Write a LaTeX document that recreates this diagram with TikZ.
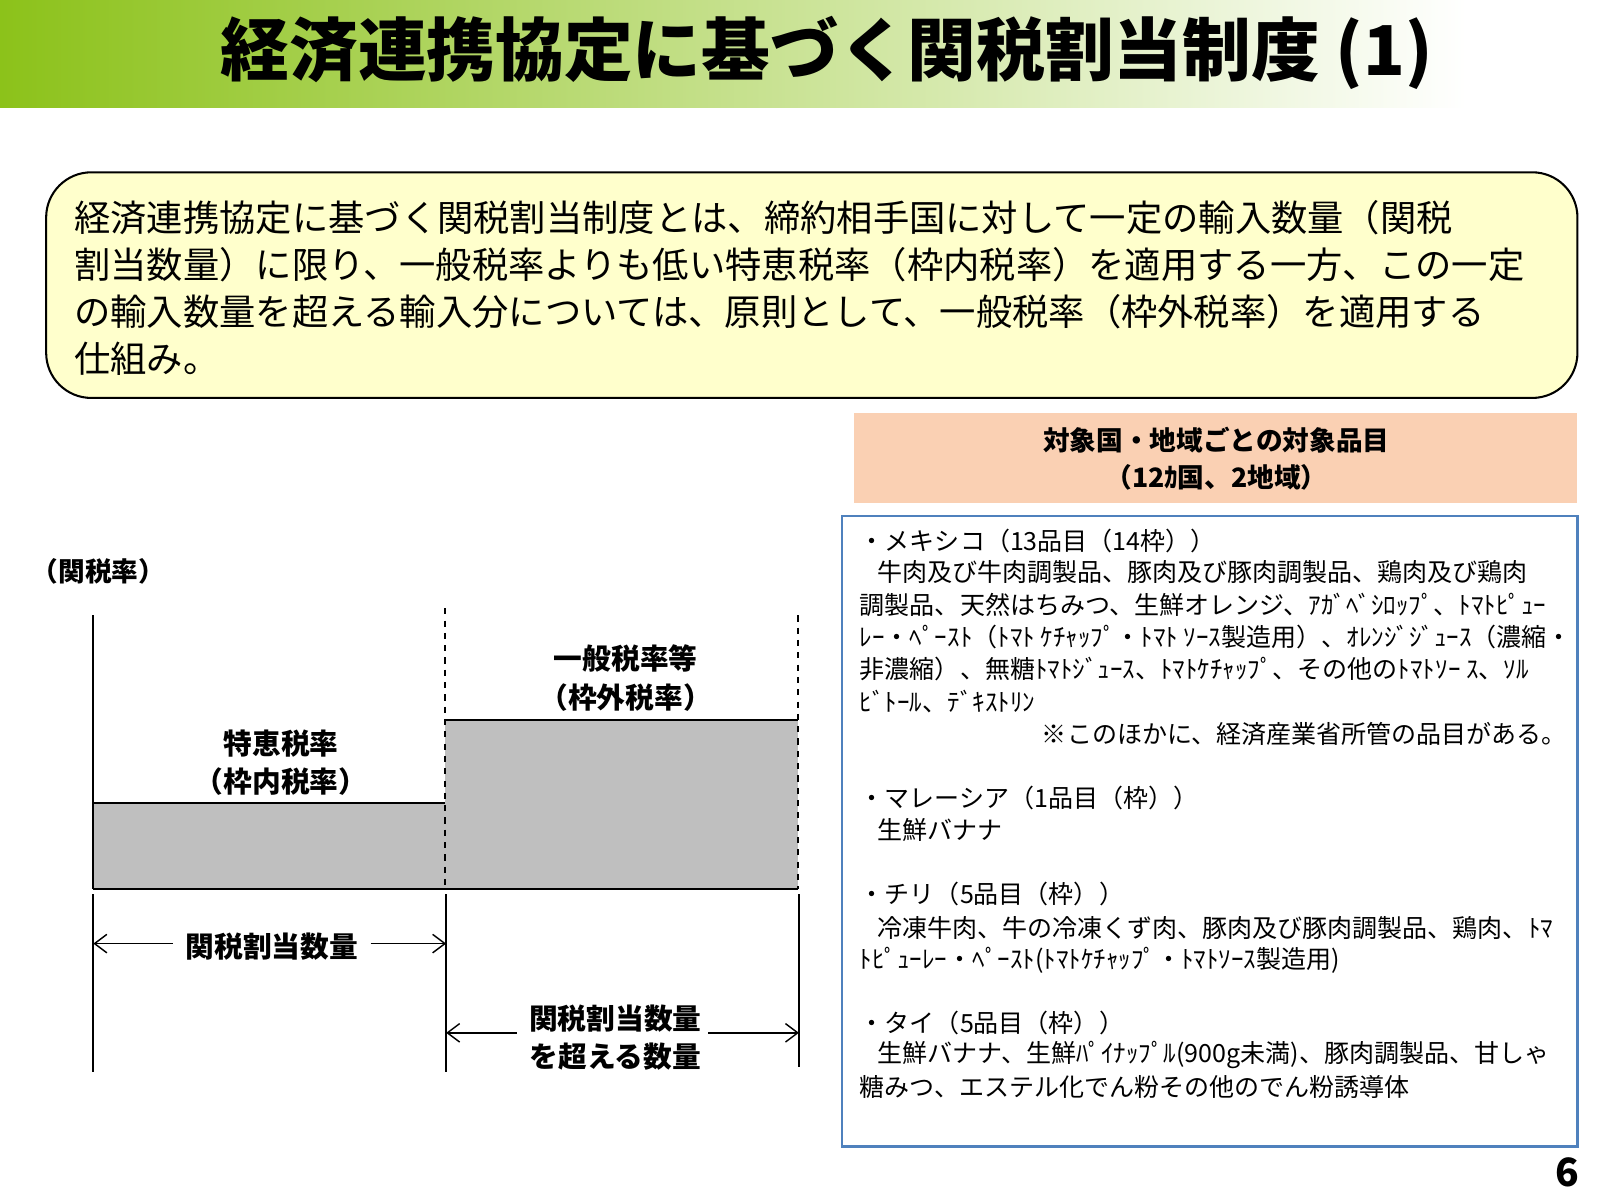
\documentclass[tikz,border=0pt]{standalone}
\usepackage{fontspec}
\setmainfont{Noto Sans CJK JP}
\usetikzlibrary{arrows.meta}
\definecolor{tgreen}{HTML}{8CC21A}
\definecolor{boxy}{HTML}{FFFFCC}
\definecolor{peach}{HTML}{FAD0B3}
\definecolor{bblue}{HTML}{4F81BD}
\definecolor{gbar}{HTML}{BFBFBF}
\begin{document}
\begin{tikzpicture}[x=0.5pt,y=-0.5pt,
  body/.style={anchor=west,inner sep=0pt,font=\fontsize{17.7}{20}\selectfont},
  lst/.style={anchor=west,inner sep=0pt,font=\fontsize{12.2}{14}\selectfont},
  lab/.style={inner sep=0pt,font=\bfseries\fontsize{14}{16}\selectfont},
  arr/.style={-{Straight Barb[length=6pt,width=9pt]},line width=0.7pt},
  vl/.style={line width=1pt}]
\useasboundingbox (0,0) rectangle (1560,1170);
\fill[white] (0,0) rectangle (1560,1170);
\shade[left color=tgreen,right color=white] (0,0) rectangle (1430,105);
\fill[white] (1430,0) rectangle (1560,105);
\node[inner sep=0pt,font=\bfseries\fontsize{33.5}{36}\selectfont] (title) at (806,52) {経済連携協定に基づく関税割当制度 (1)};
\draw[fill=boxy,line width=1pt,rounded corners=22pt] (45,168) rectangle (1538,388);
\node[body] (b1) at (72,212) {経済連携協定に基づく関税割当制度とは、締約相手国に対して一定の輸入数量（関税};
\node[body] (b2) at (72,258) {割当数量）に限り、一般税率よりも低い特恵税率（枠内税率）を適用する一方、この一定};
\node[body] (b3) at (72,304) {の輸入数量を超える輸入分については、原則として、一般税率（枠外税率）を適用する};
\node[body] (b4) at (72,350) {仕組み。};
\fill[peach] (833,403) rectangle (1538,490);
\node[lab,font=\bfseries\fontsize{13}{15}\selectfont] (h1) at (1186,429) {対象国・地域ごとの対象品目};
\node[lab,font=\bfseries\fontsize{13}{15}\selectfont] (h2) at (1186,465) {（12ｶ国、2地域）};
\draw[bblue,line width=1.2pt] (821,503) rectangle (1538,1118);
\node[lst] (l1) at (838,527) {・メキシコ（13品目（14枠））};
\node[lst] (l2) at (855,558) {牛肉及び牛肉調製品、豚肉及び豚肉調製品、鶏肉及び鶏肉};
\node[lst] (l3) at (838,590) {調製品、天然はちみつ、生鮮オレンジ、ｱｶﾞﾍﾞｼﾛｯﾌﾟ、ﾄﾏﾄﾋﾟｭｰ};
\node[lst] (l4) at (838,621) {ﾚｰ・ﾍﾟｰｽﾄ（ﾄﾏﾄ ｹﾁｬｯﾌﾟ・ﾄﾏﾄ ｿｰｽ製造用）、ｵﾚﾝｼﾞｼﾞｭｰｽ（濃縮・};
\node[lst] (l5) at (838,652) {非濃縮）、無糖ﾄﾏﾄｼﾞｭｰｽ、ﾄﾏﾄｹﾁｬｯﾌﾟ、その他のﾄﾏﾄｿｰ ｽ、ｿﾙ};
\node[lst] (l6) at (838,684) {ﾋﾞﾄｰﾙ、ﾃﾞｷｽﾄﾘﾝ};
\node[lst,anchor=east] (l7) at (1528,716) {※このほかに、経済産業省所管の品目がある。};
\node[lst] (l8) at (838,778) {・マレーシア（1品目（枠））};
\node[lst] (l9) at (855,809) {生鮮バナナ};
\node[lst] (l10) at (838,872) {・チリ（5品目（枠））};
\node[lst] (l11) at (855,905) {冷凍牛肉、牛の冷凍くず肉、豚肉及び豚肉調製品、鶏肉、ﾄﾏ};
\node[lst] (l12) at (838,936) {ﾄﾋﾟｭｰﾚｰ・ﾍﾟｰｽﾄ(ﾄﾏﾄｹﾁｬｯﾌﾟ・ﾄﾏﾄｿｰｽ製造用)};
\node[lst] (l13) at (838,997) {・タイ（5品目（枠））};
\node[lst] (l14) at (855,1029) {生鮮バナナ、生鮮ﾊﾟｲﾅｯﾌﾟﾙ(900g未満)、豚肉調製品、甘しゃ};
\node[lst] (l15) at (838,1060) {糖みつ、エステル化でん粉その他のでん粉誘導体};
% chart
\node[lab,font=\bfseries\fontsize{13}{15}\selectfont] (yl) at (96,557) {（関税率）};
\fill[gbar] (91,783) rectangle (434,867);
\fill[gbar] (434,702) rectangle (778,867);
\draw[vl] (91,783) -- (434,783);
\draw[line width=0.6pt] (434,702) -- (778,702);
\draw[vl] (91,600) -- (91,867);
\draw[dashed,line width=0.7pt] (434,593) -- (434,867);
\draw[dashed,line width=0.7pt] (778,600) -- (778,867);
\draw[vl] (91,867) -- (778,867);
\node[lab] (t1) at (274,725) {特恵税率};
\node[lab] (t2) at (274,762) {（枠内税率）};
\node[lab] (t3) at (610,642) {一般税率等};
\node[lab] (t4) at (610,680) {（枠外税率）};
\draw[vl] (91,872) -- (91,1045);
\draw[vl] (435,872) -- (435,1045);
\draw[vl] (779,872) -- (779,1040);
\node[lab] (q1) at (265,923) {関税割当数量};
\coordinate (a1l) at (91,920); \coordinate (a1r) at (435,920);
\draw[arr] ([xshift=-6pt]q1.west |- a1l) -- (a1l);
\draw[arr] ([xshift=6pt]q1.east |- a1r) -- (a1r);
\node[lab] (q2) at (600,993) {関税割当数量};
\node[lab] (q3) at (600,1030) {を超える数量};
\coordinate (a2l) at (435,1007); \coordinate (a2r) at (779,1007);
\draw[arr] ([xshift=-6pt]q2.west |- a2l) -- (a2l);
\draw[arr] ([xshift=3pt]q2.east |- a2r) -- (a2r);
\node[inner sep=0pt,font=\bfseries\fontsize{19}{20}\selectfont] (pg) at (1528,1143) {6};
\end{tikzpicture}
\end{document}
